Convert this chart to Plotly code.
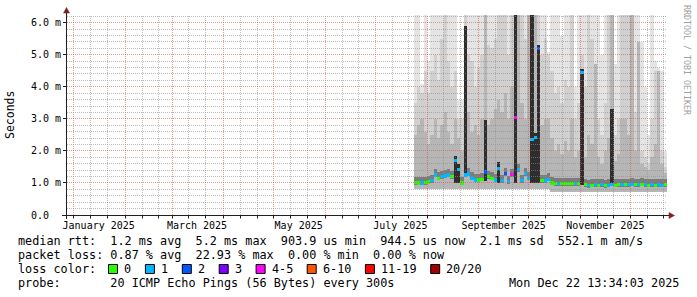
import plotly.graph_objects as go
import pandas as pd

# ---------------- data (values in milliseconds) ----------------
dates = pd.date_range("2025-07-25", periods=76, freq="2D")

median_ms = [1.02, 1.00, 1.00, 1.01, 1.03, 1.08, 1.25, 1.15, 1.20, 1.22,
             1.25, 1.20, 1.69, 1.43, 1.00, 1.25, 1.28, 1.15, 1.09, 1.09,
             1.12, 1.34, 1.20, 1.15, 1.09, 1.46, 1.07, 1.30, 1.05, 1.27,
             3.05, 1.42, 1.07, 1.30, 1.15, 2.36, 2.41, 5.19, 1.08, 1.06,
             1.12, 1.00, 0.99, 0.99, 0.98, 0.99, 0.98, 0.98, 0.99, 0.98,
             4.44, 0.94, 0.92, 0.93, 0.95, 0.93, 0.94, 0.92, 0.93, 0.96,
             0.93, 0.94, 0.94, 0.95, 0.94, 0.96, 0.95, 0.94, 0.96, 0.95,
             0.93, 0.94, 0.93, 0.95, 0.93, 0.94]

loss_count = [0, 0, 1, 0, 0, 1, 1, 0, 1, 1,
              1, 0, 1, 1, 0, 1, 1, 1, 1, 0,
              0, 2, 0, 0, 1, 1, 1, 2, 1, 4,
              4, 1, 1, 1, 1, 1, 1, 2, 0, 1,
              1, 0, 0, 1, 0, 0, 0, 0, 1, 0,
              1, 0, 1, 0, 1, 0, 1, 0, 1, 1,
              0, 0, 1, 0, 1, 1, 0, 1, 0, 1,
              0, 1, 0, 1, 1, 0]

ping_min = [0.80] * 41 + [0.72] * 35

ping_q1 = [0.95, 0.93, 0.93, 0.94, 0.96, 1.01, 1.18, 1.08, 1.13, 1.15,
           1.18, 1.13, 1.00, 1.00, 0.93, 1.18, 1.21, 1.08, 1.02, 1.02,
           1.05, 1.05, 1.13, 1.08, 1.02, 1.00, 1.00, 1.23, 0.98, 1.20,
           1.00, 1.35, 1.00, 1.23, 1.08, 1.00, 1.00, 1.00, 1.01, 0.99,
           1.05, 0.93, 0.92, 0.92, 0.91, 0.92, 0.91, 0.91, 0.92, 0.91,
           0.95, 0.87, 0.85, 0.86, 0.88, 0.86, 0.87, 0.85, 0.86, 0.90,
           0.86, 0.87, 0.87, 0.88, 0.87, 0.89, 0.88, 0.87, 0.89, 0.88,
           0.86, 0.87, 0.86, 0.88, 0.86, 0.87]

ping_q3 = [1.20, 1.18, 1.18, 1.19, 1.21, 1.26, 1.43, 1.33, 1.38, 1.40,
           1.43, 1.38, 1.85, 1.60, 1.18, 5.90, 1.46, 1.33, 1.27, 1.27,
           1.30, 2.96, 1.38, 1.33, 1.27, 1.64, 1.25, 1.48, 1.23, 1.45,
           6.30, 1.60, 1.25, 1.48, 1.33, 6.30, 2.55, 5.30, 1.26, 1.24,
           1.30, 1.18, 1.17, 1.17, 1.16, 1.17, 1.16, 1.16, 1.17, 1.16,
           4.55, 1.12, 1.10, 1.11, 1.13, 1.11, 1.12, 1.10, 1.11, 3.30,
           1.11, 1.12, 1.12, 1.13, 1.12, 1.14, 1.13, 1.12, 1.14, 1.13,
           1.11, 1.12, 1.11, 1.13, 1.11, 1.12]

ping_p90 = [2.5, 2.8, 3.0, 2.6, 2.2, 2.5, 3.0, 2.4, 2.8, 3.2,
            2.6, 2.2, 3.0, 2.4, 2.0, 5.9, 3.2, 2.6, 2.8, 2.5,
            3.0, 6.3, 2.8, 3.0, 3.3, 3.6, 3.2, 3.8, 3.0, 4.0,
            6.3, 6.3, 3.5, 3.0, 6.3, 6.3, 6.3, 5.3, 2.8, 3.0,
            3.0, 2.4, 2.0, 2.2, 1.9, 2.3, 2.0, 3.0, 1.8, 2.0,
            4.5, 1.8, 2.5, 2.2, 4.7, 1.8, 1.6, 2.0, 2.4, 6.3,
            1.7, 1.9, 3.0, 3.0, 2.5, 6.3, 2.0, 5.4, 1.6, 1.5,
            1.4, 1.8, 2.2, 4.5, 1.6, 1.3]

ping_p95 = [3.5, 4.0, 3.8, 4.5, 3.8, 4.5, 5.0, 4.2, 5.5, 6.3,
            4.8, 4.0, 4.5, 3.0, 3.0, 6.3, 5.0, 4.8, 4.0, 4.6,
            5.0, 6.3, 5.3, 5.2, 5.5, 6.3, 6.3, 6.3, 5.0, 6.3,
            6.3, 6.3, 6.3, 5.5, 6.3, 6.3, 6.3, 6.3, 5.0, 5.5,
            5.0, 4.5, 3.8, 4.0, 3.5, 4.2, 4.0, 6.3, 3.0, 3.5,
            5.0, 4.0, 6.3, 5.5, 4.0, 3.0, 2.5, 3.5, 6.3, 6.3,
            2.5, 3.0, 6.3, 6.3, 6.3, 6.3, 3.2, 5.4, 2.0, 1.8,
            1.6, 3.0, 4.5, 4.5, 2.0, 1.5]

ping_max = [6.3, 6.3, 4.1, 6.3, 4.8, 6.3, 6.3, 6.3, 6.3, 6.3,
            6.3, 6.3, 6.3, 3.6, 3.6, 6.3, 6.3, 6.3, 6.3, 6.3,
            6.3, 6.3, 6.3, 6.3, 6.3, 6.3, 6.3, 6.3, 6.3, 6.3,
            6.3, 6.3, 6.3, 6.3, 6.3, 6.3, 6.3, 6.3, 6.3, 6.3,
            5.1, 6.3, 6.3, 6.3, 5.6, 6.3, 6.3, 6.3, 4.0, 6.3,
            6.3, 6.3, 6.3, 6.3, 6.3, 6.3, 5.0, 6.3, 6.3, 6.3,
            4.7, 6.3, 6.3, 6.3, 6.3, 6.3, 6.3, 6.3, 5.4, 4.0,
            2.5, 6.3, 4.8, 4.6, 4.5, 2.0]

loss_labels = ["0", "1", "2", "3", "4-5", "6-10", "11-19", "20/20"]
loss_upper = [0, 1, 2, 3, 5, 10, 19, 20]
loss_palette = ["#26ff00", "#00b8ff", "#0059ff", "#7e00ff",
                "#ff00ff", "#ff5500", "#ff0000", "#a10000"]

y_tick_vals = [0, 1, 2, 3, 4, 5, 6]
y_tick_text = ["0.0\u00a0\u00a0", "1.0 m", "2.0 m", "3.0 m", "4.0 m", "5.0 m", "6.0 m"]
x_label_dates = ["2025-01-16", "2025-03-16", "2025-05-16",
                 "2025-07-16", "2025-09-16", "2025-11-16"]
x_label_text = ["January 2025", "March 2025", "May 2025",
                "July 2025", "September 2025", "November 2025"]

legend_line1 = "median rtt:  1.2 ms avg  5.2 ms max  903.9 us min  944.5 us now  2.1 ms sd  552.1 m am/s"
legend_line2 = "packet loss: 0.87 % avg  22.93 % max  0.00 % min  0.00 % now"
legend_line3 = "loss color:"
legend_line4 = "probe:       20 ICMP Echo Pings (56 Bytes) every 300s"
timestamp = "Mon Dec 22 13:34:03 2025"
watermark = "RRDTOOL / TOBI OETIKER"
y_title = "Seconds"

# ---------------- layout helpers ----------------
W, H = 697, 297
L, R, T, B = 67, 30, 15, 82
PW, PH = W - L - R, H - T - B
X_START, X_END = pd.Timestamp("2024-12-28"), pd.Timestamp("2025-12-23")
Y_MAX = 6.24


def px(xp):
    return (xp - L) / PW


def py(yp):
    return (T + PH - yp) / PH


def date_px(d):
    return L + (pd.Timestamp(d) - X_START) / (X_END - X_START) * PW


def val_py(v):
    return T + PH - v / Y_MAX * PH


def snap(p):
    return int(p) + 0.5


MONO = "DejaVu Sans Mono"
DAY_MS = 86400000
BAR_W = 2 * DAY_MS


def loss_color(n):
    for up, c in zip(loss_upper, loss_palette):
        if n <= up:
            return c
    return loss_palette[-1]


fig = go.Figure()

bands = [
    (ping_min, ping_max, "#e4e4e4"),
    (ping_min, ping_p95, "#d0d0d0"),
    (ping_min, ping_p90, "#b6b6b6"),
]
for lo, hi, col in bands:
    fig.add_trace(go.Bar(
        x=dates, base=lo, y=[h - l for h, l in zip(hi, lo)], width=BAR_W,
        marker=dict(color=col, line=dict(width=0)), hoverinfo="skip",
        showlegend=False))

core_colors = ["#2e2e2e" if (h - l) > 0.5 else "#7c7c7c" for h, l in zip(ping_q3, ping_q1)]
fig.add_trace(go.Bar(
    x=dates, base=ping_q1, y=[h - l for h, l in zip(ping_q3, ping_q1)], width=BAR_W,
    marker=dict(color=core_colors, line=dict(width=0)), hoverinfo="skip",
    showlegend=False))

fig.add_trace(go.Bar(
    x=dates, base=[m - 0.05 for m in median_ms], y=[0.1] * len(median_ms),
    width=BAR_W,
    marker=dict(color=[loss_color(n) for n in loss_count], line=dict(width=0)),
    hoverinfo="skip", showlegend=False))

# ---------------- grid (drawn above data, like rrdtool) ----------------
shapes = []
minor_col = "rgba(143,143,143,0.6)"
major_col = "rgba(222,79,79,0.6)"
DOT = "1px,1px"
month_starts = pd.date_range("2025-01-01", "2025-12-01", freq="MS")
minor_dates = []
for ms in month_starts:
    minor_dates.append(ms + pd.Timedelta(days=10))
    minor_dates.append(ms + pd.Timedelta(days=20))


def vline(d, col):
    xp = px(snap(date_px(d)))
    return dict(type="line", xref="paper", yref="paper", x0=xp, x1=xp, y0=0, y1=1,
                line=dict(color=col, width=1, dash=DOT), layer="above")


def hline(v, col):
    yp = py(snap(val_py(v)))
    return dict(type="line", xref="paper", yref="paper", x0=0, x1=1, y0=yp, y1=yp,
                line=dict(color=col, width=1, dash=DOT), layer="above")


for d in minor_dates:
    shapes.append(vline(d, minor_col))
for v in [i / 5 for i in range(1, 32)]:
    if abs(v - round(v)) > 1e-6:
        shapes.append(hline(v, minor_col))
for d in month_starts:
    shapes.append(vline(d, major_col))
for v in y_tick_vals[1:]:
    shapes.append(hline(v, major_col))
# x ticks below axis
for d in list(month_starts) + minor_dates:
    xp = px(snap(date_px(d)))
    shapes.append(dict(type="line", xref="paper", yref="paper", x0=xp, x1=xp,
                       y0=py(215.5), y1=py(218.5),
                       line=dict(color="#1f1f1f", width=1), layer="above"))

# axes with arrows
axis_col = "#1f1f1f"
arrow_col = "#801f1f"
shapes.append(dict(type="line", xref="paper", yref="paper", x0=px(62), x1=px(669),
                   y0=py(215.5), y1=py(215.5), line=dict(color=axis_col, width=1), layer="above"))
shapes.append(dict(type="line", xref="paper", yref="paper", x0=px(66.5), x1=px(66.5),
                   y0=py(219), y1=py(12), line=dict(color=axis_col, width=1), layer="above"))
shapes.append(dict(type="path", xref="paper", yref="paper",
                   path=f"M {px(669)},{py(212.5)} L {px(674.5)},{py(215.5)} L {px(669)},{py(218.5)} Z",
                   fillcolor=arrow_col, line=dict(color=arrow_col, width=0.5), layer="above"))
shapes.append(dict(type="path", xref="paper", yref="paper",
                   path=f"M {px(63.5)},{py(13)} L {px(66.5)},{py(7.5)} L {px(69.5)},{py(13)} Z",
                   fillcolor=arrow_col, line=dict(color=arrow_col, width=0.5), layer="above"))

# ---------------- legend text ----------------
FS = 11.8
CW = 7.1
annotations = []
line_y = [241, 255, 269, 283]
for txt, yy in zip([legend_line1, legend_line2, legend_line3, legend_line4], line_y):
    annotations.append(dict(text=txt, x=px(16), y=py(yy), xref="paper", yref="paper",
                            xanchor="left", yanchor="middle", showarrow=False,
                            font=dict(family=MONO, size=FS, color="#000000")))
annotations.append(dict(text=timestamp, x=px(681), y=py(283), xref="paper", yref="paper",
                        xanchor="right", yanchor="middle", showarrow=False,
                        font=dict(family=MONO, size=FS, color="#000000")))

bx = 108.0
for lab, col in zip(loss_labels, loss_palette):
    shapes.append(dict(type="rect", xref="paper", yref="paper",
                       x0=px(bx + 0.5), x1=px(bx + 9.5), y0=py(273.5), y1=py(264.5),
                       fillcolor=col, line=dict(color="#000000", width=1)))
    annotations.append(dict(text=lab, x=px(bx + 14), y=py(269), xref="paper", yref="paper",
                            xanchor="left", yanchor="middle", showarrow=False,
                            font=dict(family=MONO, size=FS, color="#000000")))
    bx += 14.5 + len(lab) * CW + 15.3

annotations.append(dict(text=y_title, x=px(10), y=0.5, xref="paper", yref="paper",
                        xanchor="center", yanchor="middle", textangle=-90, showarrow=False,
                        font=dict(family=MONO, size=11.5, color="#000000")))
annotations.append(dict(text=watermark, x=px(687), y=py(60), xref="paper", yref="paper",
                        xanchor="center", yanchor="middle", textangle=90, showarrow=False,
                        font=dict(family=MONO, size=8.3, color="#a0a0a0")))

fig.update_layout(
    width=W, height=H, margin=dict(l=L, r=R, t=T, b=B, pad=0),
    paper_bgcolor="#ffffff", plot_bgcolor="#ffffff",
    barmode="overlay", bargap=0, showlegend=False,
    shapes=shapes, annotations=annotations,
    xaxis=dict(type="date", range=[X_START, X_END], showgrid=False, zeroline=False,
               showline=False, tickmode="array", tickvals=x_label_dates,
               ticktext=x_label_text, ticks="", ticklabelstandoff=3,
               tickfont=dict(family=MONO, size=10, color="#000000")),
    yaxis=dict(range=[0, Y_MAX], showgrid=False, zeroline=False, showline=False,
               tickmode="array", tickvals=y_tick_vals, ticktext=y_tick_text,
               ticks="outside", ticklen=3, tickcolor=axis_col, tickwidth=1,
               tickfont=dict(family=MONO, size=10, color="#000000")),
)

fig.write_html("out.html")
